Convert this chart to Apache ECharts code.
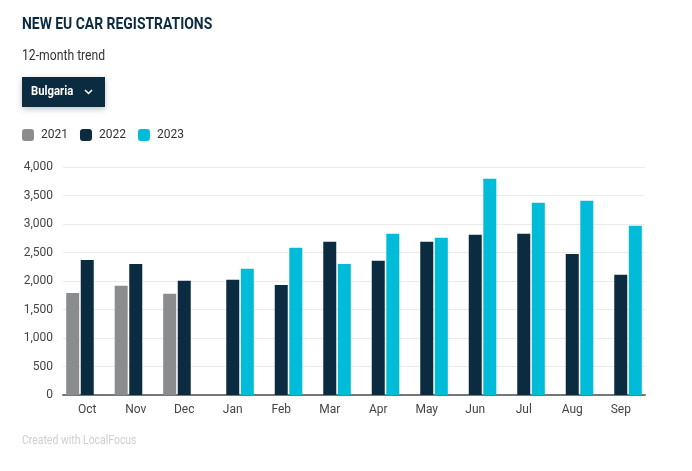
<!DOCTYPE html>
<html>
<head>
<meta charset="utf-8">
<script src="https://cdn.jsdelivr.net/npm/echarts@6/dist/echarts.min.js"></script>
<style>
html,body{margin:0;padding:0;background:#fff;}
#chart{width:692px;height:471px;}
</style>
</head>
<body>
<div id="chart"></div>
<script>
const categories = ['Oct','Nov','Dec','Jan','Feb','Mar','Apr','May','Jun','Jul','Aug','Sep'];
const seriesNames = ['2021','2022','2023'];
const values2021 = [1790, 1915, 1775, null, null, null, null, null, null, null, null, null];
const values2022 = [2370, 2300, 2005, 2020, 1930, 2690, 2355, 2690, 2810, 2830, 2475, 2110];
const values2023 = [null, null, null, 2215, 2585, 2300, 2830, 2760, 3795, 3375, 3410, 2970];
const yTicks = [0, 500, 1000, 1500, 2000, 2500, 3000, 3500, 4000];
const colors = ['#8a8c8e', '#0b2b40', '#00bcd9'];

const chart = echarts.init(document.getElementById('chart'));
const font = 'Roboto, "Noto Sans", sans-serif';
chart.setOption({
  animation: false,
  textStyle: {fontFamily: font},
  graphic: [
    {type: 'text', x: 22, y: 24.5, scaleX: 0.87,
      style: {text: 'NEW EU CAR REGISTRATIONS', fill: '#0b2b40', font: 'bold 16px ' + font, verticalAlign: 'middle'}},
    {type: 'text', x: 22, y: 56, scaleX: 0.87,
      style: {text: '12-month trend', fill: '#333', font: '14px ' + font, verticalAlign: 'middle'}},
    {type: 'text', x: 22, y: 441, scaleX: 0.87,
      style: {text: 'Created with LocalFocus', fill: '#cfcfcf', font: '12px ' + font, verticalAlign: 'middle'}},
    {type: 'rect', shape: {x: 22, y: 77, width: 83, height: 30},
      style: {fill: '#0b2b40', shadowBlur: 6, shadowColor: 'rgba(0,0,0,0.25)', shadowOffsetY: 2}},
    {type: 'text', x: 31, y: 92, scaleX: 0.87,
      style: {text: 'Bulgaria', fill: '#fff', font: 'bold 13px ' + font, verticalAlign: 'middle'}},
    {type: 'polyline', shape: {points: [[85, 90], [88.5, 93.5], [92, 90]]},
      style: {stroke: '#fff', lineWidth: 1.5, fill: null}}
  ],
  legend: {
    left: 22, top: 129, padding: 0, itemWidth: 12, itemHeight: 12, itemGap: 12,
    icon: 'roundRect',
    textStyle: {fontSize: 12, color: '#333', fontFamily: font, padding: [0, 0, 0, 2]},
    data: seriesNames
  },
  grid: {left: 63, right: 47, top: 167, bottom: 76},
  xAxis: {
    type: 'category', data: categories,
    axisLine: {lineStyle: {color: '#777', width: 2}},
    axisTick: {show: false},
    axisLabel: {color: '#444', fontSize: 12, margin: 9, fontFamily: font}
  },
  yAxis: {
    type: 'value', min: 0, max: 4000, interval: 500,
    axisLine: {show: false}, axisTick: {show: false},
    splitLine: {lineStyle: {color: '#ebebeb', width: 1}},
    axisLabel: {color: '#444', fontSize: 12, margin: 10, fontFamily: font,
      formatter: v => yTicks.includes(v) ? v.toLocaleString('en-US') : ''}
  },
  series: [
    {name: seriesNames[0], type: 'bar', data: values2021, barWidth: 13, barGap: '12%', itemStyle: {color: colors[0]}},
    {name: seriesNames[1], type: 'bar', data: values2022, barWidth: 13, barGap: '12%', itemStyle: {color: colors[1]}},
    {name: seriesNames[2], type: 'bar', data: values2023, barWidth: 13, barGap: '12%', itemStyle: {color: colors[2]}}
  ]
});
</script>
</body>
</html>
